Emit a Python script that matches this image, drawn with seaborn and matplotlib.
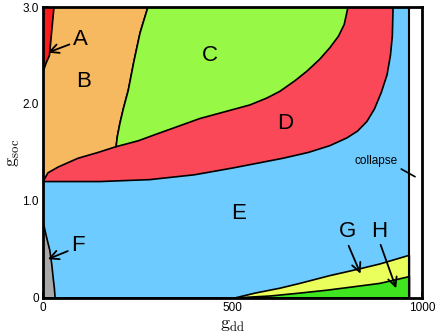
import numpy as np
import pandas as pd
import matplotlib
matplotlib.use("Agg")
import matplotlib.pyplot as plt
import seaborn as sns

# boundary curves of the phase diagram (g_dd, g_soc)
collapse_x = 967

# A / B boundary
ab_x = [0, 8, 17, 23, 29]
ab_y = [2.33, 2.42, 2.5, 2.75, 3.0]

# B / C boundary (top down)
bc_x = [277, 266, 256, 240, 225, 212, 203, 196, 193]
bc_y = [3.0, 2.86, 2.73, 2.44, 2.14, 1.95, 1.8, 1.66, 1.56]

# top of D (B/D then C/D), left to right
dtop_x = [0, 13, 40, 92, 145, 193, 251, 300, 350, 414, 480, 546, 590, 625,
          665, 697, 730, 757, 780, 795, 805]
dtop_y = [1.2, 1.29, 1.35, 1.44, 1.5, 1.56, 1.62, 1.69, 1.76, 1.85, 1.92, 1.99,
          2.06, 2.13, 2.24, 2.34, 2.46, 2.58, 2.70, 2.82, 3.0]

# D / E boundary
de_x = [0, 150, 282, 400, 501, 633, 700, 757, 802, 830, 855, 875, 893, 908,
        917, 922, 924]
de_y = [1.2, 1.2, 1.22, 1.27, 1.34, 1.44, 1.50, 1.57, 1.65, 1.72, 1.82, 1.95,
        2.12, 2.30, 2.5, 2.7, 3.0]

# F / E boundary
f_x = [0, 5, 11, 18, 23, 27, 30, 32]
f_y = [0.8, 0.7, 0.6, 0.49, 0.35, 0.2, 0.1, 0.0]

# G upper and H upper boundaries
g_x = [507, 560, 625, 678, 757, 836, 889, 967]
g_y = [0.0, 0.05, 0.10, 0.15, 0.23, 0.30, 0.35, 0.44]
h_x = [507, 600, 678, 750, 810, 889, 967]
h_y = [0.0, 0.02, 0.05, 0.08, 0.11, 0.15, 0.22]

colors = {
    "A": "#fc1c1c", "B": "#f6b95f", "C": "#97f946", "D": "#fa4858",
    "E": "#6ecbff", "F": "#a9a9a9", "G": "#ebff5c", "H": "#3fe61f",
}

sns.set_style("ticks")
plt.rcParams["font.family"] = ["Liberation Sans", "DejaVu Sans"]
plt.rcParams["mathtext.fontset"] = "cm"
for k in ["text.color", "axes.labelcolor", "xtick.color", "ytick.color", "axes.edgecolor"]:
    plt.rcParams[k] = "black"

fig = plt.figure(figsize=(4.37, 3.34), dpi=100)
ax = fig.add_axes([0.0984, 0.108, 0.867, 0.871])

lw = 1.2
kw = dict(edgecolor="black", linewidth=lw, joinstyle="round")

# E as background
ax.fill([0, collapse_x, collapse_x, 0], [0, 0, 3, 3], facecolor=colors["E"], **kw)

# D: above D/E boundary
ax.fill(de_x + [0], de_y + [3.0], facecolor=colors["D"], **kw)

# B: left of B/C, above D top
ax.fill([0] + dtop_x[:6] + bc_x[::-1] + [0], [3.0] + dtop_y[:6] + bc_y[::-1] + [3.0],
        facecolor=colors["B"], **kw)

# C: right of B/C, above D top
ax.fill(bc_x + dtop_x[6:], bc_y + dtop_y[6:], facecolor=colors["C"], **kw)

# A
ax.fill(ab_x + [0], ab_y + [3.0], facecolor=colors["A"], **kw)

# F
ax.fill(f_x + [0], f_y + [0.0], facecolor=colors["F"], **kw)

# G and H
ax.fill(g_x + [collapse_x], g_y + [0.0], facecolor=colors["G"], **kw)
ax.fill(h_x + [collapse_x], h_y + [0.0], facecolor=colors["H"], **kw)

# collapse line
ax.plot([collapse_x, collapse_x], [0, 3], color="black", linewidth=1.5)

# region labels
fs = 16
for lab, (x, y) in {"B": (106, 2.23), "C": (440, 2.5), "D": (640, 1.8),
                    "E": (515, 0.87)}.items():
    ax.text(x, y, lab, fontsize=fs, ha="center", va="center")

arr = dict(arrowstyle="->", color="black", lw=1.3, shrinkA=0, shrinkB=0)
ax.annotate("A", xy=(13, 2.53), xytext=(98, 2.67), fontsize=fs, ha="center", va="center",
            arrowprops=dict(arr, relpos=(0, 0.3)))
ax.annotate("F", xy=(13, 0.40), xytext=(92, 0.54), fontsize=fs, ha="center", va="center",
            arrowprops=dict(arr, relpos=(0, 0.3)))
ax.annotate("G", xy=(838, 0.25), xytext=(803, 0.68), fontsize=fs, ha="center", va="center",
            arrowprops=dict(arr, relpos=(0.5, 0)))
ax.annotate("H", xy=(932, 0.10), xytext=(888, 0.69), fontsize=fs, ha="center", va="center",
            arrowprops=dict(arr, relpos=(0.5, 0)))
ax.annotate("collapse", xy=(982, 1.25), xytext=(880, 1.41), fontsize=8.5, ha="center",
            va="center", arrowprops=dict(arrowstyle="-", color="black", lw=1.2,
                                         relpos=(1, 0), shrinkA=0, shrinkB=0))

ax.set_xlim(0, 1000)
ax.set_ylim(0, 3)
ax.set_xticks(np.arange(0, 1001, 100))
ax.set_xticklabels(["0", "", "", "", "", "500", "", "", "", "", "1000"])
ax.set_yticks([0, 1, 2, 3])
ax.set_yticklabels(["0", "1.0", "2.0", "3.0"])
ax.tick_params(direction="in", length=4.5, width=1.2, labelsize=8.5, pad=3)
for s in ax.spines.values():
    s.set_visible(True)
    s.set_linewidth(2)
    s.set_zorder(5)

ax.set_xlabel(r"$\mathrm{g}_{\mathrm{dd}}$", fontsize=13, labelpad=2)
ax.set_ylabel(r"$\mathrm{g}_{\mathrm{soc}}$", fontsize=13, labelpad=0)

fig.savefig("out.png", dpi=100)
